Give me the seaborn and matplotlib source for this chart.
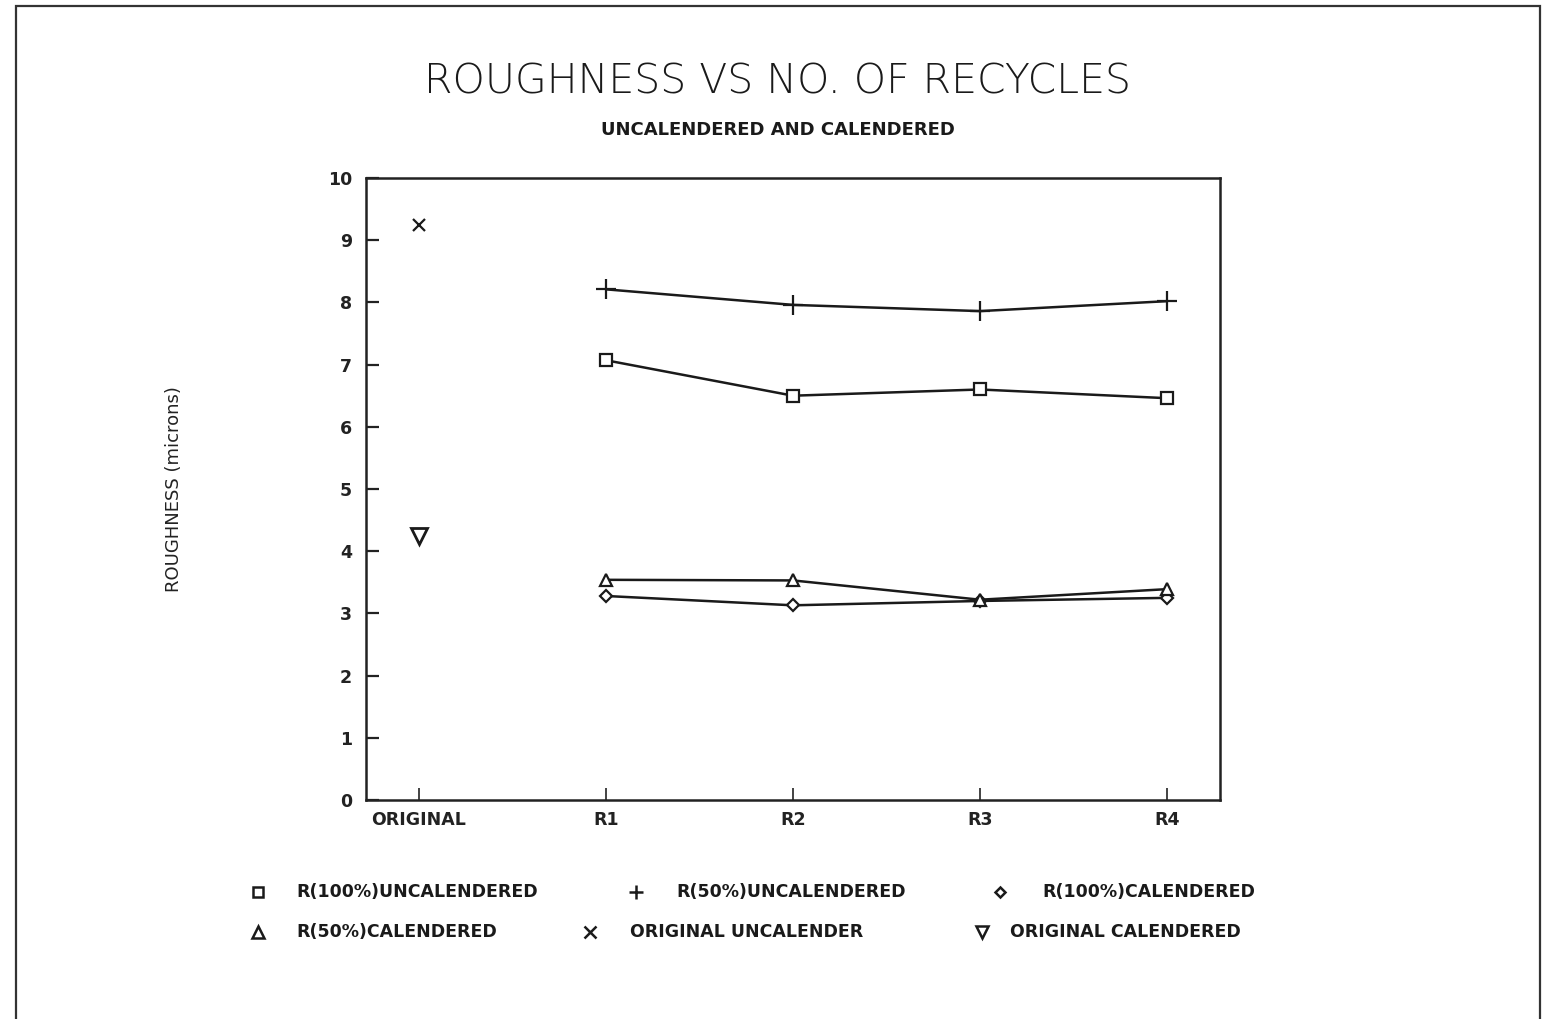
import matplotlib
matplotlib.use("Agg")
import matplotlib.pyplot as plt
from matplotlib.lines import Line2D
from matplotlib.patches import Rectangle
import seaborn as sns
import pandas as pd

# ---- data -------------------------------------------------------------
categories = ["ORIGINAL", "R1", "R2", "R3", "R4"]
recycles = ["R1", "R2", "R3", "R4"]

r100_uncalendered = [7.07, 6.50, 6.60, 6.46]
r50_uncalendered = [8.21, 7.96, 7.86, 8.02]
r100_calendered = [3.28, 3.13, 3.20, 3.25]
r50_calendered = [3.54, 3.53, 3.22, 3.39]
original_uncalendered = [9.25]
original_calendered = [4.24]

legend_labels = [
    "R(100%)UNCALENDERED", "R(50%)UNCALENDERED", "R(100%)CALENDERED",
    "R(50%)CALENDERED", "ORIGINAL UNCALENDER", "ORIGINAL CALENDERED",
]

# ---- style ------------------------------------------------------------
sns.set_theme(style="white")
plt.rcParams["font.family"] = ["DejaVu Sans"]
plt.rcParams["axes.edgecolor"] = "#222222"

W, H = 1544, 1019
fig = plt.figure(figsize=(W / 100, H / 100), dpi=100)
fig.patch.set_facecolor("white")


def fx(px):
    return px / W


def fy(py):
    return 1 - py / H


ax = fig.add_axes([fx(366), fy(800), fx(1220) - fx(366), fy(178) - fy(800)])

pos = {c: i for i, c in enumerate(categories)}

series = [
    (r100_uncalendered, "s", 9, legend_labels[0]),
    (r50_uncalendered, "+", 14, legend_labels[1]),
    (r100_calendered, "D", 6.5, legend_labels[2]),
    (r50_calendered, "^", 9, legend_labels[3]),
]

for values, marker, ms, label in series:
    df = pd.DataFrame({"x": [pos[r] for r in recycles], "y": values})
    sns.lineplot(data=df, x="x", y="y", ax=ax, color="#1a1a1a", linewidth=1.8,
                 marker=marker, markersize=ms, markerfacecolor="white",
                 markeredgecolor="#1a1a1a", markeredgewidth=1.6, label=label,
                 legend=False)

orig_df = pd.DataFrame({"x": [pos["ORIGINAL"]], "u": original_uncalendered,
                        "c": original_calendered})
ax.plot(orig_df["x"], orig_df["u"], linestyle="none", marker="x", markersize=9,
        markeredgewidth=1.6, color="#1a1a1a")
ax.plot(orig_df["x"], orig_df["c"], linestyle="none", marker="v", markersize=11,
        markeredgewidth=2.0, markerfacecolor="white", markeredgecolor="#1a1a1a")

# ---- axes -------------------------------------------------------------
ax.set_xlim(-0.283, len(categories) - 1 + 0.283)
ax.set_ylim(0, 10)
ax.set_xticks(range(len(categories)))
ax.set_xticklabels(categories)
ax.set_yticks(range(0, 11))
ax.set_xlabel("")
ax.set_ylabel("ROUGHNESS (microns)", fontsize=13, labelpad=104, color="#222222")
for s in ax.spines.values():
    s.set_linewidth(1.8)
    s.set_color("#222222")
ax.tick_params(axis="y", direction="in", length=9, width=1.6, pad=10,
               labelsize=12.5, left=True, colors="#222222")
ax.tick_params(axis="x", direction="in", length=9, width=1.2, pad=8,
               labelsize=12.5, bottom=True, colors="#222222")
for t in ax.get_yticklabels() + ax.get_xticklabels():
    t.set_fontweight("bold")
ax.grid(False)

# ---- titles -----------------------------------------------------------
fig.text(fx(778), fy(82), "ROUGHNESS VS NO. OF RECYCLES", ha="center",
         va="center", fontsize=29.5, fontweight="light", color="#1a1a1a")
fig.text(fx(778), fy(130), "UNCALENDERED AND CALENDERED", ha="center",
         va="center", fontsize=13, fontweight="bold", color="#1a1a1a")

# ---- legend (two rows of three) ---------------------------------------
legend_items = [
    ("s", 7, True, 258, 296, 892, legend_labels[0]),
    ("+", 10, False, 636, 676, 892, legend_labels[1]),
    ("D", 5.5, True, 1000, 1042, 892, legend_labels[2]),
    ("^", 8, True, 258, 296, 932, legend_labels[3]),
    ("x", 8, False, 590, 630, 932, legend_labels[4]),
    ("v", 8, True, 982, 1010, 932, legend_labels[5]),
]
for marker, ms, hollow, xm, xt, yy, label in legend_items:
    fig.add_artist(Line2D([fx(xm)], [fy(yy)], transform=fig.transFigure,
                          marker=marker, markersize=ms, linestyle="none",
                          markerfacecolor="white" if hollow else "#1a1a1a",
                          markeredgecolor="#1a1a1a", markeredgewidth=1.8))
    fig.text(fx(xt), fy(yy), label, ha="left", va="center", fontsize=12.5,
             fontweight="bold", color="#1a1a1a")

# ---- page frame -------------------------------------------------------
fig.add_artist(Rectangle((fx(16), -0.02), fx(1540) - fx(16), fy(6) + 0.02,
                         transform=fig.transFigure, fill=False,
                         edgecolor="#333333", linewidth=1.6))

fig.savefig("out.png", dpi=100, facecolor="white")
